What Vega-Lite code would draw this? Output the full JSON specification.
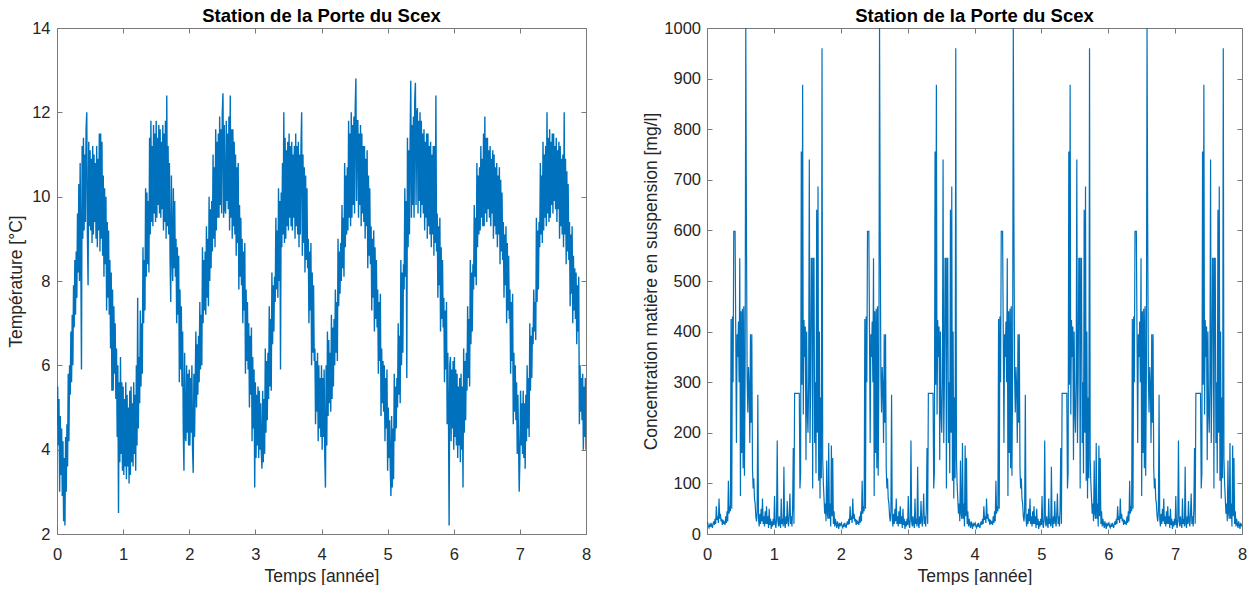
{
"$schema":"https://vega.github.io/schema/vega-lite/v6.json",
"padding":{"left":7,"top":6,"right":5,"bottom":0},
"spacing":121,
"bounds":"flush",
"config":{
"font":"Liberation Sans",
"view":{"stroke":null},
"axis":{"domainColor":"#7a7a7a","tickColor":"#7a7a7a","labelColor":"#262626","titleColor":"#262626","labelFont":"Liberation Sans","titleFont":"Liberation Sans","labelFontSize":16.5,"titleFontSize":17.5,"titleFontWeight":"normal","tickSize":-5,"grid":false,"domainWidth":1,"tickWidth":1,"labelFlush":false,"labelOverlap":false},
"title":{"font":"Liberation Sans","fontSize":18.5,"fontWeight":"bold","color":"#000000","frame":"group","anchor":"middle","offset":-5}
},
"datasets":{
"temp":[
{"t":0,"v":4.6},{"t":0.01,"v":5.5},{"t":0.02,"v":4.1},{"t":0.03,"v":5.2},{"t":0.04,"v":3.0},
{"t":0.05,"v":4.8},{"t":0.06,"v":3.4},{"t":0.07,"v":4.5},{"t":0.08,"v":2.9},{"t":0.09,"v":4.2},
{"t":0.10,"v":2.3},{"t":0.11,"v":3.8},{"t":0.12,"v":2.2},{"t":0.13,"v":4.3},{"t":0.14,"v":3.0},
{"t":0.15,"v":4.6},{"t":0.16,"v":3.6},{"t":0.17,"v":5.8},{"t":0.18,"v":4.2},{"t":0.19,"v":6.0},
{"t":0.20,"v":5.3},{"t":0.21,"v":6.8},{"t":0.22,"v":5.6},{"t":0.23,"v":7.2},{"t":0.24,"v":6.0},
{"t":0.25,"v":7.9},{"t":0.26,"v":6.9},{"t":0.27,"v":8.5},{"t":0.28,"v":7.2},{"t":0.29,"v":8.7},
{"t":0.30,"v":7.6},{"t":0.31,"v":9.6},{"t":0.32,"v":8.2},{"t":0.33,"v":10.3},{"t":0.34,"v":8.0},
{"t":0.35,"v":10.8},{"t":0.36,"v":8.7},{"t":0.37,"v":5.9},{"t":0.38,"v":11.2},{"t":0.39,"v":9.0},
{"t":0.40,"v":11.4},{"t":0.41,"v":9.2},{"t":0.42,"v":11.0},{"t":0.43,"v":9.4},{"t":0.44,"v":11.6},
{"t":0.45,"v":12.0},{"t":0.46,"v":9.1},{"t":0.47,"v":7.9},{"t":0.48,"v":11.3},{"t":0.49,"v":9.3},
{"t":0.50,"v":11.1},{"t":0.51,"v":9.2},{"t":0.52,"v":10.9},{"t":0.53,"v":8.9},{"t":0.54,"v":11.2},
{"t":0.55,"v":9.1},{"t":0.56,"v":11.0},{"t":0.57,"v":9.4},{"t":0.58,"v":10.8},{"t":0.59,"v":9.0},
{"t":0.60,"v":11.2},{"t":0.61,"v":8.8},{"t":0.62,"v":10.9},{"t":0.63,"v":9.2},{"t":0.64,"v":11.5},
{"t":0.65,"v":8.7},{"t":0.66,"v":11.5},{"t":0.67,"v":9.0},{"t":0.68,"v":11.3},{"t":0.69,"v":8.6},
{"t":0.70,"v":10.5},{"t":0.71,"v":8.1},{"t":0.72,"v":10.2},{"t":0.73,"v":8.4},{"t":0.74,"v":10.0},
{"t":0.75,"v":7.3},{"t":0.76,"v":9.4},{"t":0.77,"v":7.6},{"t":0.78,"v":9.2},{"t":0.79,"v":7.2},
{"t":0.80,"v":8.5},{"t":0.81,"v":6.4},{"t":0.82,"v":8.2},{"t":0.83,"v":5.4},{"t":0.84,"v":7.8},
{"t":0.85,"v":5.4},{"t":0.86,"v":7.4},{"t":0.87,"v":5.8},{"t":0.88,"v":7.0},{"t":0.89,"v":5.2},
{"t":0.90,"v":6.4},{"t":0.91,"v":4.3},{"t":0.92,"v":6.0},{"t":0.93,"v":2.5},{"t":0.94,"v":5.6},
{"t":0.95,"v":3.7},{"t":0.96,"v":6.2},{"t":0.97,"v":3.9},{"t":0.98,"v":5.6},{"t":0.99,"v":3.5},
{"t":1.00,"v":5.5},{"t":1.01,"v":3.4},{"t":1.02,"v":5.2},{"t":1.03,"v":3.6},{"t":1.04,"v":5.6},
{"t":1.05,"v":3.3},{"t":1.06,"v":5.3},{"t":1.07,"v":3.6},{"t":1.08,"v":5.0},{"t":1.09,"v":3.2},
{"t":1.10,"v":5.4},{"t":1.11,"v":3.4},{"t":1.12,"v":5.5},{"t":1.13,"v":3.7},{"t":1.14,"v":5.1},
{"t":1.15,"v":3.6},{"t":1.16,"v":5.6},{"t":1.17,"v":3.9},{"t":1.18,"v":5.3},{"t":1.19,"v":3.5},
{"t":1.20,"v":6.0},{"t":1.21,"v":4.1},{"t":1.22,"v":7.6},{"t":1.23,"v":4.5},{"t":1.24,"v":6.2},
{"t":1.25,"v":5.1},{"t":1.26,"v":7.3},{"t":1.27,"v":5.5},{"t":1.28,"v":7.0},{"t":1.29,"v":5.8},
{"t":1.30,"v":8.8},{"t":1.31,"v":7.0},{"t":1.32,"v":8.5},{"t":1.33,"v":7.3},{"t":1.34,"v":10.2},
{"t":1.35,"v":8.1},{"t":1.36,"v":10.1},{"t":1.37,"v":8.4},{"t":1.38,"v":9.9},{"t":1.39,"v":8.2},
{"t":1.40,"v":11.4},{"t":1.41,"v":9.1},{"t":1.42,"v":11.8},{"t":1.43,"v":9.4},{"t":1.44,"v":11.2},
{"t":1.45,"v":9.3},{"t":1.46,"v":11.7},{"t":1.47,"v":9.6},{"t":1.48,"v":11.5},{"t":1.49,"v":9.4},
{"t":1.50,"v":11.8},{"t":1.51,"v":9.5},{"t":1.52,"v":11.4},{"t":1.53,"v":9.8},{"t":1.54,"v":11.7},
{"t":1.55,"v":9.6},{"t":1.56,"v":11.6},{"t":1.57,"v":9.5},{"t":1.58,"v":11.3},{"t":1.59,"v":9.7},
{"t":1.60,"v":11.7},{"t":1.61,"v":9.2},{"t":1.62,"v":11.5},{"t":1.63,"v":9.4},{"t":1.64,"v":11.8},
{"t":1.65,"v":9.0},{"t":1.66,"v":12.4},{"t":1.67,"v":9.3},{"t":1.68,"v":11.2},{"t":1.69,"v":9.1},
{"t":1.70,"v":10.8},{"t":1.71,"v":8.5},{"t":1.72,"v":7.5},{"t":1.73,"v":10.5},{"t":1.74,"v":8.7},
{"t":1.75,"v":8.0},{"t":1.76,"v":10.2},{"t":1.77,"v":8.3},{"t":1.78,"v":9.9},{"t":1.79,"v":8.1},
{"t":1.80,"v":9.0},{"t":1.81,"v":7.0},{"t":1.82,"v":8.8},{"t":1.83,"v":7.2},{"t":1.84,"v":8.6},
{"t":1.85,"v":5.6},{"t":1.86,"v":7.8},{"t":1.87,"v":5.9},{"t":1.88,"v":7.4},{"t":1.89,"v":5.5},
{"t":1.90,"v":6.8},{"t":1.91,"v":4.4},{"t":1.92,"v":3.5},{"t":1.93,"v":6.3},{"t":1.94,"v":4.3},
{"t":1.95,"v":4.2},{"t":1.96,"v":6.0},{"t":1.97,"v":4.4},{"t":1.98,"v":5.8},{"t":1.99,"v":4.1},
{"t":2.00,"v":5.9},{"t":2.01,"v":4.1},{"t":2.02,"v":5.7},{"t":2.03,"v":4.4},{"t":2.04,"v":6.0},
{"t":2.05,"v":4.0},{"t":2.06,"v":3.45},{"t":2.07,"v":5.8},{"t":2.08,"v":4.3},{"t":2.09,"v":5.5},
{"t":2.10,"v":6.8},{"t":2.11,"v":5.0},{"t":2.12,"v":6.5},{"t":2.13,"v":5.3},{"t":2.14,"v":6.7},
{"t":2.15,"v":5.6},{"t":2.16,"v":7.5},{"t":2.17,"v":5.9},{"t":2.18,"v":7.2},{"t":2.19,"v":6.0},
{"t":2.20,"v":8.8},{"t":2.21,"v":7.0},{"t":2.22,"v":8.5},{"t":2.23,"v":7.3},{"t":2.24,"v":8.7},
{"t":2.25,"v":7.2},{"t":2.26,"v":9.3},{"t":2.27,"v":7.6},{"t":2.28,"v":9.0},{"t":2.29,"v":7.4},
{"t":2.30,"v":10.0},{"t":2.31,"v":8.0},{"t":2.32,"v":9.7},{"t":2.33,"v":8.3},{"t":2.34,"v":9.9},
{"t":2.35,"v":8.7},{"t":2.36,"v":11.0},{"t":2.37,"v":9.0},{"t":2.38,"v":10.7},{"t":2.39,"v":8.8},
{"t":2.40,"v":11.6},{"t":2.41,"v":9.2},{"t":2.42,"v":11.3},{"t":2.43,"v":9.5},{"t":2.44,"v":11.5},
{"t":2.45,"v":9.5},{"t":2.46,"v":11.9},{"t":2.47,"v":9.8},{"t":2.48,"v":11.6},{"t":2.49,"v":9.6},
{"t":2.50,"v":12.0},{"t":2.51,"v":12.45},{"t":2.52,"v":9.5},{"t":2.53,"v":11.7},{"t":2.54,"v":9.7},
{"t":2.55,"v":9.6},{"t":2.56,"v":11.8},{"t":2.57,"v":9.9},{"t":2.58,"v":11.5},{"t":2.59,"v":9.7},
{"t":2.60,"v":11.9},{"t":2.61,"v":9.2},{"t":2.62,"v":12.4},{"t":2.63,"v":9.5},{"t":2.64,"v":11.6},
{"t":2.65,"v":9.0},{"t":2.66,"v":11.6},{"t":2.67,"v":9.3},{"t":2.68,"v":11.3},{"t":2.69,"v":9.1},
{"t":2.70,"v":11.0},{"t":2.71,"v":8.6},{"t":2.72,"v":10.7},{"t":2.73,"v":8.9},{"t":2.74,"v":10.8},
{"t":2.75,"v":7.8},{"t":2.76,"v":9.8},{"t":2.77,"v":8.1},{"t":2.78,"v":9.5},{"t":2.79,"v":7.9},
{"t":2.80,"v":9.0},{"t":2.81,"v":7.0},{"t":2.82,"v":8.7},{"t":2.83,"v":7.3},{"t":2.84,"v":8.9},
{"t":2.85,"v":5.8},{"t":2.86,"v":7.8},{"t":2.87,"v":6.1},{"t":2.88,"v":7.5},{"t":2.89,"v":5.9},
{"t":2.90,"v":7.0},{"t":2.91,"v":5.0},{"t":2.92,"v":6.7},{"t":2.93,"v":5.3},{"t":2.94,"v":6.9},
{"t":2.95,"v":4.2},{"t":2.96,"v":6.2},{"t":2.97,"v":4.5},{"t":2.98,"v":5.9},{"t":2.99,"v":3.1},
{"t":3.00,"v":5.6},{"t":3.01,"v":3.8},{"t":3.02,"v":5.3},{"t":3.03,"v":4.1},{"t":3.04,"v":5.5},
{"t":3.05,"v":3.8},{"t":3.06,"v":5.4},{"t":3.07,"v":4.0},{"t":3.08,"v":5.1},{"t":3.09,"v":3.9},
{"t":3.10,"v":3.55},{"t":3.11,"v":5.4},{"t":3.12,"v":3.7},{"t":3.13,"v":5.2},{"t":3.14,"v":3.9},
{"t":3.15,"v":6.4},{"t":3.16,"v":4.4},{"t":3.17,"v":6.1},{"t":3.18,"v":4.7},{"t":3.19,"v":6.3},
{"t":3.20,"v":5.2},{"t":3.21,"v":7.4},{"t":3.22,"v":5.5},{"t":3.23,"v":7.1},{"t":3.24,"v":5.4},
{"t":3.25,"v":8.2},{"t":3.26,"v":6.5},{"t":3.27,"v":7.9},{"t":3.28,"v":6.8},{"t":3.29,"v":8.1},
{"t":3.30,"v":7.5},{"t":3.31,"v":9.5},{"t":3.32,"v":7.8},{"t":3.33,"v":9.2},{"t":3.34,"v":7.6},
{"t":3.35,"v":10.2},{"t":3.36,"v":8.0},{"t":3.37,"v":9.9},{"t":3.38,"v":5.9},{"t":3.39,"v":10.1},
{"t":3.40,"v":8.8},{"t":3.41,"v":10.8},{"t":3.42,"v":9.1},{"t":3.43,"v":12.0},{"t":3.44,"v":8.9},
{"t":3.45,"v":11.4},{"t":3.46,"v":9.0},{"t":3.47,"v":11.1},{"t":3.48,"v":9.3},{"t":3.49,"v":11.3},
{"t":3.50,"v":9.2},{"t":3.51,"v":11.5},{"t":3.52,"v":9.5},{"t":3.53,"v":11.2},{"t":3.54,"v":9.3},
{"t":3.55,"v":11.3},{"t":3.56,"v":9.2},{"t":3.57,"v":11.0},{"t":3.58,"v":9.5},{"t":3.59,"v":11.2},
{"t":3.60,"v":9.0},{"t":3.61,"v":11.5},{"t":3.62,"v":9.3},{"t":3.63,"v":11.2},{"t":3.64,"v":9.1},
{"t":3.65,"v":11.3},{"t":3.66,"v":8.8},{"t":3.67,"v":11.0},{"t":3.68,"v":9.1},{"t":3.69,"v":11.2},
{"t":3.70,"v":12.0},{"t":3.71,"v":8.6},{"t":3.72,"v":11.0},{"t":3.73,"v":8.9},{"t":3.74,"v":10.7},
{"t":3.75,"v":8.2},{"t":3.76,"v":10.5},{"t":3.77,"v":8.5},{"t":3.78,"v":10.2},{"t":3.79,"v":8.3},
{"t":3.80,"v":9.0},{"t":3.81,"v":7.0},{"t":3.82,"v":8.7},{"t":3.83,"v":7.3},{"t":3.84,"v":8.9},
{"t":3.85,"v":6.0},{"t":3.86,"v":8.2},{"t":3.87,"v":6.3},{"t":3.88,"v":7.9},{"t":3.89,"v":6.1},
{"t":3.90,"v":6.4},{"t":3.91,"v":4.6},{"t":3.92,"v":6.1},{"t":3.93,"v":4.9},{"t":3.94,"v":6.3},
{"t":3.95,"v":4.2},{"t":3.96,"v":6.0},{"t":3.97,"v":4.5},{"t":3.98,"v":5.7},{"t":3.99,"v":4.3},
{"t":4.00,"v":6.0},{"t":4.01,"v":4.0},{"t":4.02,"v":5.7},{"t":4.03,"v":4.3},{"t":4.04,"v":5.9},
{"t":4.05,"v":3.8},{"t":4.06,"v":3.1},{"t":4.07,"v":6.0},{"t":4.08,"v":4.1},{"t":4.09,"v":6.8},
{"t":4.10,"v":4.8},{"t":4.11,"v":6.6},{"t":4.12,"v":5.1},{"t":4.13,"v":6.3},{"t":4.14,"v":4.9},
{"t":4.15,"v":7.2},{"t":4.16,"v":5.2},{"t":4.17,"v":6.9},{"t":4.18,"v":5.5},{"t":4.19,"v":7.1},
{"t":4.20,"v":6.0},{"t":4.21,"v":7.8},{"t":4.22,"v":6.3},{"t":4.23,"v":7.5},{"t":4.24,"v":6.1},
{"t":4.25,"v":9.0},{"t":4.26,"v":7.4},{"t":4.27,"v":8.7},{"t":4.28,"v":7.7},{"t":4.29,"v":8.9},
{"t":4.30,"v":8.0},{"t":4.31,"v":9.8},{"t":4.32,"v":8.3},{"t":4.33,"v":9.5},{"t":4.34,"v":8.1},
{"t":4.35,"v":10.8},{"t":4.36,"v":8.8},{"t":4.37,"v":10.5},{"t":4.38,"v":9.1},{"t":4.39,"v":10.7},
{"t":4.40,"v":9.2},{"t":4.41,"v":11.8},{"t":4.42,"v":9.5},{"t":4.43,"v":11.5},{"t":4.44,"v":9.3},
{"t":4.45,"v":12.0},{"t":4.46,"v":9.5},{"t":4.47,"v":11.7},{"t":4.48,"v":9.8},{"t":4.49,"v":11.9},
{"t":4.50,"v":9.6},{"t":4.51,"v":12.1},{"t":4.52,"v":12.8},{"t":4.53,"v":9.9},{"t":4.54,"v":11.8},
{"t":4.55,"v":11.8},{"t":4.56,"v":9.5},{"t":4.57,"v":11.5},{"t":4.58,"v":9.8},{"t":4.59,"v":11.7},
{"t":4.60,"v":9.3},{"t":4.61,"v":11.5},{"t":4.62,"v":9.6},{"t":4.63,"v":11.2},{"t":4.64,"v":9.4},
{"t":4.65,"v":11.2},{"t":4.66,"v":9.0},{"t":4.67,"v":10.9},{"t":4.68,"v":9.3},{"t":4.69,"v":11.1},
{"t":4.70,"v":8.3},{"t":4.71,"v":10.5},{"t":4.72,"v":8.6},{"t":4.73,"v":10.2},{"t":4.74,"v":8.4},
{"t":4.75,"v":9.3},{"t":4.76,"v":7.3},{"t":4.77,"v":9.0},{"t":4.78,"v":7.6},{"t":4.79,"v":9.2},
{"t":4.80,"v":6.8},{"t":4.81,"v":8.8},{"t":4.82,"v":7.1},{"t":4.83,"v":8.5},{"t":4.84,"v":6.9},
{"t":4.85,"v":7.8},{"t":4.86,"v":5.8},{"t":4.87,"v":7.5},{"t":4.88,"v":6.1},{"t":4.89,"v":7.7},
{"t":4.90,"v":4.8},{"t":4.91,"v":6.4},{"t":4.92,"v":5.1},{"t":4.93,"v":6.1},{"t":4.94,"v":4.9},
{"t":4.95,"v":6.0},{"t":4.96,"v":4.2},{"t":4.97,"v":5.7},{"t":4.98,"v":4.5},{"t":4.99,"v":5.9},
{"t":5.00,"v":3.5},{"t":5.01,"v":5.0},{"t":5.02,"v":3.8},{"t":5.03,"v":4.7},{"t":5.04,"v":3.6},
{"t":5.05,"v":2.9},{"t":5.06,"v":4.8},{"t":5.07,"v":3.1},{"t":5.08,"v":4.5},{"t":5.09,"v":3.3},
{"t":5.10,"v":5.8},{"t":5.11,"v":4.2},{"t":5.12,"v":5.5},{"t":5.13,"v":4.5},{"t":5.14,"v":5.7},
{"t":5.15,"v":5.0},{"t":5.16,"v":7.0},{"t":5.17,"v":5.3},{"t":5.18,"v":6.7},{"t":5.19,"v":5.1},
{"t":5.20,"v":8.5},{"t":5.21,"v":6.0},{"t":5.22,"v":8.2},{"t":5.23,"v":6.3},{"t":5.24,"v":8.4},
{"t":5.25,"v":7.8},{"t":5.26,"v":10.2},{"t":5.27,"v":8.1},{"t":5.28,"v":9.9},{"t":5.29,"v":5.7},
{"t":5.30,"v":11.4},{"t":5.31,"v":8.8},{"t":5.32,"v":11.1},{"t":5.33,"v":9.1},{"t":5.34,"v":11.3},
{"t":5.35,"v":12.75},{"t":5.36,"v":9.5},{"t":5.37,"v":11.7},{"t":5.38,"v":9.8},{"t":5.39,"v":11.9},
{"t":5.40,"v":9.5},{"t":5.41,"v":12.3},{"t":5.42,"v":12.7},{"t":5.43,"v":9.8},{"t":5.44,"v":12.0},
{"t":5.45,"v":12.1},{"t":5.46,"v":9.6},{"t":5.47,"v":11.8},{"t":5.48,"v":9.9},{"t":5.49,"v":12.0},
{"t":5.50,"v":9.5},{"t":5.51,"v":11.8},{"t":5.52,"v":9.8},{"t":5.53,"v":11.5},{"t":5.54,"v":9.6},
{"t":5.55,"v":11.6},{"t":5.56,"v":9.2},{"t":5.57,"v":11.3},{"t":5.58,"v":9.5},{"t":5.59,"v":11.5},
{"t":5.60,"v":9.0},{"t":5.61,"v":11.5},{"t":5.62,"v":9.3},{"t":5.63,"v":11.2},{"t":5.64,"v":9.1},
{"t":5.65,"v":11.3},{"t":5.66,"v":8.8},{"t":5.67,"v":11.0},{"t":5.68,"v":9.1},{"t":5.69,"v":11.2},
{"t":5.70,"v":8.6},{"t":5.71,"v":11.2},{"t":5.72,"v":8.9},{"t":5.73,"v":12.4},{"t":5.74,"v":8.7},
{"t":5.75,"v":9.6},{"t":5.76,"v":7.6},{"t":5.77,"v":9.3},{"t":5.78,"v":7.9},{"t":5.79,"v":9.5},
{"t":5.80,"v":6.8},{"t":5.81,"v":8.8},{"t":5.82,"v":7.1},{"t":5.83,"v":8.5},{"t":5.84,"v":6.9},
{"t":5.85,"v":7.6},{"t":5.86,"v":5.6},{"t":5.87,"v":7.3},{"t":5.88,"v":5.9},{"t":5.89,"v":7.5},
{"t":5.90,"v":4.6},{"t":5.91,"v":6.3},{"t":5.92,"v":4.9},{"t":5.93,"v":2.2},{"t":5.94,"v":6.0},
{"t":5.95,"v":6.2},{"t":5.96,"v":4.2},{"t":5.97,"v":5.9},{"t":5.98,"v":4.5},{"t":5.99,"v":6.1},
{"t":6.00,"v":4.0},{"t":6.01,"v":6.2},{"t":6.02,"v":4.3},{"t":6.03,"v":5.9},{"t":6.04,"v":4.1},
{"t":6.05,"v":5.8},{"t":6.06,"v":3.8},{"t":6.07,"v":5.5},{"t":6.08,"v":4.1},{"t":6.09,"v":5.7},
{"t":6.10,"v":3.7},{"t":6.11,"v":5.8},{"t":6.12,"v":4.0},{"t":6.13,"v":5.5},{"t":6.14,"v":3.1},
{"t":6.15,"v":6.4},{"t":6.16,"v":4.4},{"t":6.17,"v":6.1},{"t":6.18,"v":4.7},{"t":6.19,"v":6.3},
{"t":6.20,"v":5.4},{"t":6.21,"v":7.4},{"t":6.22,"v":5.7},{"t":6.23,"v":7.1},{"t":6.24,"v":5.5},
{"t":6.25,"v":8.5},{"t":6.26,"v":6.5},{"t":6.27,"v":8.2},{"t":6.28,"v":6.8},{"t":6.29,"v":8.4},
{"t":6.30,"v":7.8},{"t":6.31,"v":9.8},{"t":6.32,"v":8.1},{"t":6.33,"v":9.5},{"t":6.34,"v":7.9},
{"t":6.35,"v":10.8},{"t":6.36,"v":8.8},{"t":6.37,"v":10.5},{"t":6.38,"v":9.1},{"t":6.39,"v":10.7},
{"t":6.40,"v":9.2},{"t":6.41,"v":11.2},{"t":6.42,"v":9.5},{"t":6.43,"v":10.9},{"t":6.44,"v":9.3},
{"t":6.45,"v":11.5},{"t":6.46,"v":9.3},{"t":6.47,"v":11.9},{"t":6.48,"v":9.6},{"t":6.49,"v":11.4},
{"t":6.50,"v":9.4},{"t":6.51,"v":11.4},{"t":6.52,"v":9.7},{"t":6.53,"v":11.1},{"t":6.54,"v":9.5},
{"t":6.55,"v":11.2},{"t":6.56,"v":9.3},{"t":6.57,"v":10.9},{"t":6.58,"v":9.6},{"t":6.59,"v":11.1},
{"t":6.60,"v":9.0},{"t":6.61,"v":11.0},{"t":6.62,"v":9.3},{"t":6.63,"v":10.7},{"t":6.64,"v":9.1},
{"t":6.65,"v":10.8},{"t":6.66,"v":8.8},{"t":6.67,"v":10.5},{"t":6.68,"v":9.1},{"t":6.69,"v":10.7},
{"t":6.70,"v":8.4},{"t":6.71,"v":10.4},{"t":6.72,"v":8.7},{"t":6.73,"v":10.1},{"t":6.74,"v":8.5},
{"t":6.75,"v":9.4},{"t":6.76,"v":7.6},{"t":6.77,"v":9.1},{"t":6.78,"v":7.9},{"t":6.79,"v":9.3},
{"t":6.80,"v":7.0},{"t":6.81,"v":8.9},{"t":6.82,"v":7.3},{"t":6.83,"v":8.6},{"t":6.84,"v":7.1},
{"t":6.85,"v":7.8},{"t":6.86,"v":5.8},{"t":6.87,"v":7.5},{"t":6.88,"v":6.1},{"t":6.89,"v":7.7},
{"t":6.90,"v":4.6},{"t":6.91,"v":6.3},{"t":6.92,"v":4.9},{"t":6.93,"v":6.0},{"t":6.94,"v":4.7},
{"t":6.95,"v":5.6},{"t":6.96,"v":3.9},{"t":6.97,"v":5.3},{"t":6.98,"v":4.2},{"t":6.99,"v":3.0},
{"t":7.00,"v":3.8},{"t":7.01,"v":5.4},{"t":7.02,"v":4.1},{"t":7.03,"v":5.1},{"t":7.04,"v":3.9},
{"t":7.05,"v":5.4},{"t":7.06,"v":3.8},{"t":7.07,"v":5.1},{"t":7.08,"v":3.55},{"t":7.09,"v":5.3},
{"t":7.10,"v":4.2},{"t":7.11,"v":6.0},{"t":7.12,"v":4.5},{"t":7.13,"v":5.7},{"t":7.14,"v":4.3},
{"t":7.15,"v":7.0},{"t":7.16,"v":5.4},{"t":7.17,"v":6.7},{"t":7.18,"v":5.7},{"t":7.19,"v":6.9},
{"t":7.20,"v":6.5},{"t":7.21,"v":7.8},{"t":7.22,"v":6.8},{"t":7.23,"v":7.5},{"t":7.24,"v":6.6},
{"t":7.25,"v":9.5},{"t":7.26,"v":7.5},{"t":7.27,"v":9.2},{"t":7.28,"v":7.8},{"t":7.29,"v":9.4},
{"t":7.30,"v":8.8},{"t":7.31,"v":10.8},{"t":7.32,"v":9.1},{"t":7.33,"v":10.5},{"t":7.34,"v":8.9},
{"t":7.35,"v":11.3},{"t":7.36,"v":9.2},{"t":7.37,"v":11.0},{"t":7.38,"v":9.5},{"t":7.39,"v":11.2},
{"t":7.40,"v":9.3},{"t":7.41,"v":12.0},{"t":7.42,"v":9.6},{"t":7.43,"v":11.4},{"t":7.44,"v":9.4},
{"t":7.45,"v":11.6},{"t":7.46,"v":9.5},{"t":7.47,"v":11.3},{"t":7.48,"v":9.8},{"t":7.49,"v":11.5},
{"t":7.50,"v":9.6},{"t":7.51,"v":11.5},{"t":7.52,"v":9.9},{"t":7.53,"v":11.2},{"t":7.54,"v":9.7},
{"t":7.55,"v":11.4},{"t":7.56,"v":9.4},{"t":7.57,"v":11.1},{"t":7.58,"v":9.7},{"t":7.59,"v":11.3},
{"t":7.60,"v":9.0},{"t":7.61,"v":11.2},{"t":7.62,"v":9.3},{"t":7.63,"v":10.9},{"t":7.64,"v":9.1},
{"t":7.65,"v":11.0},{"t":7.66,"v":8.8},{"t":7.67,"v":12.0},{"t":7.68,"v":9.1},{"t":7.69,"v":10.9},
{"t":7.70,"v":8.4},{"t":7.71,"v":10.6},{"t":7.72,"v":8.7},{"t":7.73,"v":10.3},{"t":7.74,"v":8.5},
{"t":7.75,"v":9.4},{"t":7.76,"v":7.4},{"t":7.77,"v":9.1},{"t":7.78,"v":7.7},{"t":7.79,"v":9.3},
{"t":7.80,"v":7.0},{"t":7.81,"v":8.6},{"t":7.82,"v":7.3},{"t":7.83,"v":8.3},{"t":7.84,"v":7.1},
{"t":7.85,"v":8.2},{"t":7.86,"v":6.5},{"t":7.87,"v":7.9},{"t":7.88,"v":6.8},{"t":7.89,"v":8.1},
{"t":7.90,"v":4.6},{"t":7.91,"v":6.0},{"t":7.92,"v":4.9},{"t":7.93,"v":5.7},{"t":7.94,"v":4.7},
{"t":7.95,"v":5.8},{"t":7.96,"v":4.0},{"t":7.97,"v":5.5},{"t":7.98,"v":4.3},{"t":7.99,"v":5.7},
{"t":8.00,"v":4.0}
],
"conc":[
{"t":0,"v":20},{"t":0.01,"v":22},{"t":0.02,"v":15},{"t":0.03,"v":12},{"t":0.04,"v":18},{"t":0.05,"v":14},{"t":0.06,"v":22},{"t":0.07,"v":16},{"t":0.08,"v":12},{"t":0.09,"v":20},
{"t":0.10,"v":25},{"t":0.11,"v":18},{"t":0.12,"v":30},{"t":0.13,"v":20},{"t":0.14,"v":55},{"t":0.15,"v":28},{"t":0.16,"v":35},{"t":0.17,"v":22},{"t":0.18,"v":70},{"t":0.19,"v":30},
{"t":0.20,"v":40},{"t":0.21,"v":25},{"t":0.22,"v":30},{"t":0.23,"v":18},{"t":0.24,"v":28},{"t":0.25,"v":20},{"t":0.26,"v":25},{"t":0.27,"v":18},{"t":0.28,"v":35},{"t":0.29,"v":22},
{"t":0.30,"v":45},{"t":0.31,"v":25},{"t":0.32,"v":105},{"t":0.33,"v":40},{"t":0.34,"v":55},{"t":0.35,"v":45},{"t":0.36,"v":425},{"t":0.37,"v":50},{"t":0.38,"v":430},{"t":0.39,"v":300},
{"t":0.40,"v":598},{"t":0.41,"v":598},{"t":0.42,"v":598},{"t":0.43,"v":395},{"t":0.44,"v":180},{"t":0.45,"v":395},{"t":0.46,"v":350},{"t":0.47,"v":420},{"t":0.48,"v":300},{"t":0.49,"v":545},
{"t":0.50,"v":75},{"t":0.51,"v":440},{"t":0.52,"v":160},{"t":0.53,"v":445},{"t":0.54,"v":130},{"t":0.55,"v":450},{"t":0.56,"v":115},{"t":0.57,"v":320},{"t":0.58,"v":1000},{"t":0.59,"v":600},
{"t":0.60,"v":310},{"t":0.61,"v":240},{"t":0.62,"v":330},{"t":0.63,"v":290},{"t":0.64,"v":180},{"t":0.65,"v":395},{"t":0.66,"v":220},{"t":0.67,"v":395},{"t":0.68,"v":130},{"t":0.69,"v":90},
{"t":0.70,"v":110},{"t":0.71,"v":70},{"t":0.72,"v":60},{"t":0.73,"v":35},{"t":0.74,"v":25},{"t":0.75,"v":45},{"t":0.76,"v":275},{"t":0.77,"v":30},{"t":0.78,"v":15},{"t":0.79,"v":40},
{"t":0.80,"v":20},{"t":0.81,"v":50},{"t":0.82,"v":25},{"t":0.83,"v":70},{"t":0.84,"v":20},{"t":0.85,"v":35},{"t":0.86,"v":15},{"t":0.87,"v":45},{"t":0.88,"v":20},{"t":0.89,"v":55},
{"t":0.90,"v":20},{"t":0.91,"v":35},{"t":0.92,"v":12},{"t":0.93,"v":50},{"t":0.94,"v":18},{"t":0.95,"v":30},{"t":0.96,"v":10},{"t":0.97,"v":25},{"t":0.98,"v":15},{"t":0.99,"v":30},
{"t":1.00,"v":18},{"t":1.01,"v":75},{"t":1.02,"v":20},{"t":1.03,"v":12},{"t":1.04,"v":30},{"t":1.05,"v":185},{"t":1.06,"v":25},{"t":1.07,"v":15},{"t":1.08,"v":35},{"t":1.09,"v":20},
{"t":1.10,"v":12},{"t":1.11,"v":70},{"t":1.12,"v":20},{"t":1.13,"v":30},{"t":1.14,"v":15},{"t":1.15,"v":133},{"t":1.16,"v":20},{"t":1.17,"v":12},{"t":1.18,"v":35},{"t":1.19,"v":20},
{"t":1.20,"v":65},{"t":1.21,"v":25},{"t":1.22,"v":15},{"t":1.23,"v":40},{"t":1.24,"v":80},{"t":1.25,"v":20},{"t":1.26,"v":35},{"t":1.27,"v":15},{"t":1.28,"v":50},{"t":1.29,"v":170},
{"t":1.30,"v":20},{"t":1.31,"v":278},{"t":1.32,"v":278},{"t":1.33,"v":278},{"t":1.34,"v":278},{"t":1.35,"v":278},{"t":1.36,"v":278},{"t":1.37,"v":278},{"t":1.38,"v":278},{"t":1.39,"v":90},
{"t":1.40,"v":120},{"t":1.41,"v":756},{"t":1.42,"v":295},{"t":1.43,"v":888},{"t":1.44,"v":236},{"t":1.45,"v":423},{"t":1.46,"v":350},{"t":1.47,"v":410},{"t":1.48,"v":146},{"t":1.49,"v":400},
{"t":1.50,"v":240},{"t":1.51,"v":200},{"t":1.52,"v":300},{"t":1.53,"v":740},{"t":1.54,"v":180},{"t":1.55,"v":300},{"t":1.56,"v":545},{"t":1.57,"v":545},{"t":1.58,"v":90},{"t":1.59,"v":545},
{"t":1.60,"v":545},{"t":1.61,"v":180},{"t":1.62,"v":300},{"t":1.63,"v":120},{"t":1.64,"v":641},{"t":1.65,"v":200},{"t":1.66,"v":687},{"t":1.67,"v":105},{"t":1.68,"v":400},{"t":1.69,"v":70},
{"t":1.70,"v":270},{"t":1.71,"v":110},{"t":1.72,"v":960},{"t":1.73,"v":150},{"t":1.74,"v":100},{"t":1.75,"v":70},{"t":1.76,"v":40},{"t":1.77,"v":60},{"t":1.78,"v":25},{"t":1.79,"v":145},
{"t":1.80,"v":40},{"t":1.81,"v":30},{"t":1.82,"v":180},{"t":1.83,"v":30},{"t":1.84,"v":60},{"t":1.85,"v":15},{"t":1.86,"v":175},{"t":1.87,"v":35},{"t":1.88,"v":150},{"t":1.89,"v":20},
{"t":1.90,"v":45},{"t":1.91,"v":15},{"t":1.92,"v":30},{"t":1.93,"v":20},{"t":1.94,"v":12},{"t":1.95,"v":25},{"t":1.96,"v":18},{"t":1.97,"v":10},{"t":1.98,"v":22},{"t":1.99,"v":15},
{"t":2.00,"v":20},{"t":2.01,"v":22},{"t":2.02,"v":15},{"t":2.03,"v":12},{"t":2.04,"v":18},{"t":2.05,"v":14},{"t":2.06,"v":22},{"t":2.07,"v":16},{"t":2.08,"v":12},{"t":2.09,"v":20},
{"t":2.10,"v":25},{"t":2.11,"v":18},{"t":2.12,"v":30},{"t":2.13,"v":20},{"t":2.14,"v":55},{"t":2.15,"v":28},{"t":2.16,"v":35},{"t":2.17,"v":22},{"t":2.18,"v":70},{"t":2.19,"v":30},
{"t":2.20,"v":40},{"t":2.21,"v":25},{"t":2.22,"v":30},{"t":2.23,"v":18},{"t":2.24,"v":28},{"t":2.25,"v":20},{"t":2.26,"v":25},{"t":2.27,"v":18},{"t":2.28,"v":35},{"t":2.29,"v":22},
{"t":2.30,"v":45},{"t":2.31,"v":25},{"t":2.32,"v":105},{"t":2.33,"v":40},{"t":2.34,"v":55},{"t":2.35,"v":45},{"t":2.36,"v":425},{"t":2.37,"v":50},{"t":2.38,"v":430},{"t":2.39,"v":300},
{"t":2.40,"v":598},{"t":2.41,"v":598},{"t":2.42,"v":598},{"t":2.43,"v":395},{"t":2.44,"v":180},{"t":2.45,"v":395},{"t":2.46,"v":350},{"t":2.47,"v":420},{"t":2.48,"v":300},{"t":2.49,"v":545},
{"t":2.50,"v":75},{"t":2.51,"v":440},{"t":2.52,"v":160},{"t":2.53,"v":445},{"t":2.54,"v":130},{"t":2.55,"v":450},{"t":2.56,"v":115},{"t":2.57,"v":320},{"t":2.58,"v":1000},{"t":2.59,"v":600},
{"t":2.60,"v":310},{"t":2.61,"v":240},{"t":2.62,"v":330},{"t":2.63,"v":290},{"t":2.64,"v":180},{"t":2.65,"v":395},{"t":2.66,"v":220},{"t":2.67,"v":395},{"t":2.68,"v":130},{"t":2.69,"v":90},
{"t":2.70,"v":110},{"t":2.71,"v":70},{"t":2.72,"v":60},{"t":2.73,"v":35},{"t":2.74,"v":25},{"t":2.75,"v":45},{"t":2.76,"v":275},{"t":2.77,"v":30},{"t":2.78,"v":15},{"t":2.79,"v":40},
{"t":2.80,"v":20},{"t":2.81,"v":50},{"t":2.82,"v":25},{"t":2.83,"v":70},{"t":2.84,"v":20},{"t":2.85,"v":35},{"t":2.86,"v":15},{"t":2.87,"v":45},{"t":2.88,"v":20},{"t":2.89,"v":55},
{"t":2.90,"v":20},{"t":2.91,"v":35},{"t":2.92,"v":12},{"t":2.93,"v":50},{"t":2.94,"v":18},{"t":2.95,"v":30},{"t":2.96,"v":10},{"t":2.97,"v":25},{"t":2.98,"v":15},{"t":2.99,"v":30},
{"t":3.00,"v":18},{"t":3.01,"v":75},{"t":3.02,"v":20},{"t":3.03,"v":12},{"t":3.04,"v":30},{"t":3.05,"v":185},{"t":3.06,"v":25},{"t":3.07,"v":15},{"t":3.08,"v":35},{"t":3.09,"v":20},
{"t":3.10,"v":12},{"t":3.11,"v":70},{"t":3.12,"v":20},{"t":3.13,"v":30},{"t":3.14,"v":15},{"t":3.15,"v":133},{"t":3.16,"v":20},{"t":3.17,"v":12},{"t":3.18,"v":35},{"t":3.19,"v":20},
{"t":3.20,"v":65},{"t":3.21,"v":25},{"t":3.22,"v":15},{"t":3.23,"v":40},{"t":3.24,"v":80},{"t":3.25,"v":20},{"t":3.26,"v":35},{"t":3.27,"v":15},{"t":3.28,"v":50},{"t":3.29,"v":170},
{"t":3.30,"v":20},{"t":3.31,"v":278},{"t":3.32,"v":278},{"t":3.33,"v":278},{"t":3.34,"v":278},{"t":3.35,"v":278},{"t":3.36,"v":278},{"t":3.37,"v":278},{"t":3.38,"v":278},{"t":3.39,"v":90},
{"t":3.40,"v":120},{"t":3.41,"v":756},{"t":3.42,"v":295},{"t":3.43,"v":888},{"t":3.44,"v":236},{"t":3.45,"v":423},{"t":3.46,"v":350},{"t":3.47,"v":410},{"t":3.48,"v":146},{"t":3.49,"v":400},
{"t":3.50,"v":240},{"t":3.51,"v":200},{"t":3.52,"v":300},{"t":3.53,"v":740},{"t":3.54,"v":180},{"t":3.55,"v":300},{"t":3.56,"v":545},{"t":3.57,"v":545},{"t":3.58,"v":90},{"t":3.59,"v":545},
{"t":3.60,"v":545},{"t":3.61,"v":180},{"t":3.62,"v":300},{"t":3.63,"v":120},{"t":3.64,"v":641},{"t":3.65,"v":200},{"t":3.66,"v":687},{"t":3.67,"v":105},{"t":3.68,"v":400},{"t":3.69,"v":70},
{"t":3.70,"v":270},{"t":3.71,"v":110},{"t":3.72,"v":960},{"t":3.73,"v":150},{"t":3.74,"v":100},{"t":3.75,"v":70},{"t":3.76,"v":40},{"t":3.77,"v":60},{"t":3.78,"v":25},{"t":3.79,"v":145},
{"t":3.80,"v":40},{"t":3.81,"v":30},{"t":3.82,"v":180},{"t":3.83,"v":30},{"t":3.84,"v":60},{"t":3.85,"v":15},{"t":3.86,"v":175},{"t":3.87,"v":35},{"t":3.88,"v":150},{"t":3.89,"v":20},
{"t":3.90,"v":45},{"t":3.91,"v":15},{"t":3.92,"v":30},{"t":3.93,"v":20},{"t":3.94,"v":12},{"t":3.95,"v":25},{"t":3.96,"v":18},{"t":3.97,"v":10},{"t":3.98,"v":22},{"t":3.99,"v":15},
{"t":4.00,"v":20},{"t":4.01,"v":22},{"t":4.02,"v":15},{"t":4.03,"v":12},{"t":4.04,"v":18},{"t":4.05,"v":14},{"t":4.06,"v":22},{"t":4.07,"v":16},{"t":4.08,"v":12},{"t":4.09,"v":20},
{"t":4.10,"v":25},{"t":4.11,"v":18},{"t":4.12,"v":30},{"t":4.13,"v":20},{"t":4.14,"v":55},{"t":4.15,"v":28},{"t":4.16,"v":35},{"t":4.17,"v":22},{"t":4.18,"v":70},{"t":4.19,"v":30},
{"t":4.20,"v":40},{"t":4.21,"v":25},{"t":4.22,"v":30},{"t":4.23,"v":18},{"t":4.24,"v":28},{"t":4.25,"v":20},{"t":4.26,"v":25},{"t":4.27,"v":18},{"t":4.28,"v":35},{"t":4.29,"v":22},
{"t":4.30,"v":45},{"t":4.31,"v":25},{"t":4.32,"v":105},{"t":4.33,"v":40},{"t":4.34,"v":55},{"t":4.35,"v":45},{"t":4.36,"v":425},{"t":4.37,"v":50},{"t":4.38,"v":430},{"t":4.39,"v":300},
{"t":4.40,"v":598},{"t":4.41,"v":598},{"t":4.42,"v":598},{"t":4.43,"v":395},{"t":4.44,"v":180},{"t":4.45,"v":395},{"t":4.46,"v":350},{"t":4.47,"v":420},{"t":4.48,"v":300},{"t":4.49,"v":545},
{"t":4.50,"v":75},{"t":4.51,"v":440},{"t":4.52,"v":160},{"t":4.53,"v":445},{"t":4.54,"v":130},{"t":4.55,"v":450},{"t":4.56,"v":115},{"t":4.57,"v":320},{"t":4.58,"v":1000},{"t":4.59,"v":600},
{"t":4.60,"v":310},{"t":4.61,"v":240},{"t":4.62,"v":330},{"t":4.63,"v":290},{"t":4.64,"v":180},{"t":4.65,"v":395},{"t":4.66,"v":220},{"t":4.67,"v":395},{"t":4.68,"v":130},{"t":4.69,"v":90},
{"t":4.70,"v":110},{"t":4.71,"v":70},{"t":4.72,"v":60},{"t":4.73,"v":35},{"t":4.74,"v":25},{"t":4.75,"v":45},{"t":4.76,"v":275},{"t":4.77,"v":30},{"t":4.78,"v":15},{"t":4.79,"v":40},
{"t":4.80,"v":20},{"t":4.81,"v":50},{"t":4.82,"v":25},{"t":4.83,"v":70},{"t":4.84,"v":20},{"t":4.85,"v":35},{"t":4.86,"v":15},{"t":4.87,"v":45},{"t":4.88,"v":20},{"t":4.89,"v":55},
{"t":4.90,"v":20},{"t":4.91,"v":35},{"t":4.92,"v":12},{"t":4.93,"v":50},{"t":4.94,"v":18},{"t":4.95,"v":30},{"t":4.96,"v":10},{"t":4.97,"v":25},{"t":4.98,"v":15},{"t":4.99,"v":30},
{"t":5.00,"v":18},{"t":5.01,"v":75},{"t":5.02,"v":20},{"t":5.03,"v":12},{"t":5.04,"v":30},{"t":5.05,"v":185},{"t":5.06,"v":25},{"t":5.07,"v":15},{"t":5.08,"v":35},{"t":5.09,"v":20},
{"t":5.10,"v":12},{"t":5.11,"v":70},{"t":5.12,"v":20},{"t":5.13,"v":30},{"t":5.14,"v":15},{"t":5.15,"v":133},{"t":5.16,"v":20},{"t":5.17,"v":12},{"t":5.18,"v":35},{"t":5.19,"v":20},
{"t":5.20,"v":65},{"t":5.21,"v":25},{"t":5.22,"v":15},{"t":5.23,"v":40},{"t":5.24,"v":80},{"t":5.25,"v":20},{"t":5.26,"v":35},{"t":5.27,"v":15},{"t":5.28,"v":50},{"t":5.29,"v":170},
{"t":5.30,"v":20},{"t":5.31,"v":278},{"t":5.32,"v":278},{"t":5.33,"v":278},{"t":5.34,"v":278},{"t":5.35,"v":278},{"t":5.36,"v":278},{"t":5.37,"v":278},{"t":5.38,"v":278},{"t":5.39,"v":90},
{"t":5.40,"v":120},{"t":5.41,"v":756},{"t":5.42,"v":295},{"t":5.43,"v":888},{"t":5.44,"v":236},{"t":5.45,"v":423},{"t":5.46,"v":350},{"t":5.47,"v":410},{"t":5.48,"v":146},{"t":5.49,"v":400},
{"t":5.50,"v":240},{"t":5.51,"v":200},{"t":5.52,"v":300},{"t":5.53,"v":740},{"t":5.54,"v":180},{"t":5.55,"v":300},{"t":5.56,"v":545},{"t":5.57,"v":545},{"t":5.58,"v":90},{"t":5.59,"v":545},
{"t":5.60,"v":545},{"t":5.61,"v":180},{"t":5.62,"v":300},{"t":5.63,"v":120},{"t":5.64,"v":641},{"t":5.65,"v":200},{"t":5.66,"v":687},{"t":5.67,"v":105},{"t":5.68,"v":400},{"t":5.69,"v":70},
{"t":5.70,"v":270},{"t":5.71,"v":110},{"t":5.72,"v":960},{"t":5.73,"v":150},{"t":5.74,"v":100},{"t":5.75,"v":70},{"t":5.76,"v":40},{"t":5.77,"v":60},{"t":5.78,"v":25},{"t":5.79,"v":145},
{"t":5.80,"v":40},{"t":5.81,"v":30},{"t":5.82,"v":180},{"t":5.83,"v":30},{"t":5.84,"v":60},{"t":5.85,"v":15},{"t":5.86,"v":175},{"t":5.87,"v":35},{"t":5.88,"v":150},{"t":5.89,"v":20},
{"t":5.90,"v":45},{"t":5.91,"v":15},{"t":5.92,"v":30},{"t":5.93,"v":20},{"t":5.94,"v":12},{"t":5.95,"v":25},{"t":5.96,"v":18},{"t":5.97,"v":10},{"t":5.98,"v":22},{"t":5.99,"v":15},
{"t":6.00,"v":20},{"t":6.01,"v":22},{"t":6.02,"v":15},{"t":6.03,"v":12},{"t":6.04,"v":18},{"t":6.05,"v":14},{"t":6.06,"v":22},{"t":6.07,"v":16},{"t":6.08,"v":12},{"t":6.09,"v":20},
{"t":6.10,"v":25},{"t":6.11,"v":18},{"t":6.12,"v":30},{"t":6.13,"v":20},{"t":6.14,"v":55},{"t":6.15,"v":28},{"t":6.16,"v":35},{"t":6.17,"v":22},{"t":6.18,"v":70},{"t":6.19,"v":30},
{"t":6.20,"v":40},{"t":6.21,"v":25},{"t":6.22,"v":30},{"t":6.23,"v":18},{"t":6.24,"v":28},{"t":6.25,"v":20},{"t":6.26,"v":25},{"t":6.27,"v":18},{"t":6.28,"v":35},{"t":6.29,"v":22},
{"t":6.30,"v":45},{"t":6.31,"v":25},{"t":6.32,"v":105},{"t":6.33,"v":40},{"t":6.34,"v":55},{"t":6.35,"v":45},{"t":6.36,"v":425},{"t":6.37,"v":50},{"t":6.38,"v":430},{"t":6.39,"v":300},
{"t":6.40,"v":598},{"t":6.41,"v":598},{"t":6.42,"v":598},{"t":6.43,"v":395},{"t":6.44,"v":180},{"t":6.45,"v":395},{"t":6.46,"v":350},{"t":6.47,"v":420},{"t":6.48,"v":300},{"t":6.49,"v":545},
{"t":6.50,"v":75},{"t":6.51,"v":440},{"t":6.52,"v":160},{"t":6.53,"v":445},{"t":6.54,"v":130},{"t":6.55,"v":450},{"t":6.56,"v":115},{"t":6.57,"v":320},{"t":6.58,"v":1000},{"t":6.59,"v":600},
{"t":6.60,"v":310},{"t":6.61,"v":240},{"t":6.62,"v":330},{"t":6.63,"v":290},{"t":6.64,"v":180},{"t":6.65,"v":395},{"t":6.66,"v":220},{"t":6.67,"v":395},{"t":6.68,"v":130},{"t":6.69,"v":90},
{"t":6.70,"v":110},{"t":6.71,"v":70},{"t":6.72,"v":60},{"t":6.73,"v":35},{"t":6.74,"v":25},{"t":6.75,"v":45},{"t":6.76,"v":275},{"t":6.77,"v":30},{"t":6.78,"v":15},{"t":6.79,"v":40},
{"t":6.80,"v":20},{"t":6.81,"v":50},{"t":6.82,"v":25},{"t":6.83,"v":70},{"t":6.84,"v":20},{"t":6.85,"v":35},{"t":6.86,"v":15},{"t":6.87,"v":45},{"t":6.88,"v":20},{"t":6.89,"v":55},
{"t":6.90,"v":20},{"t":6.91,"v":35},{"t":6.92,"v":12},{"t":6.93,"v":50},{"t":6.94,"v":18},{"t":6.95,"v":30},{"t":6.96,"v":10},{"t":6.97,"v":25},{"t":6.98,"v":15},{"t":6.99,"v":30},
{"t":7.00,"v":18},{"t":7.01,"v":75},{"t":7.02,"v":20},{"t":7.03,"v":12},{"t":7.04,"v":30},{"t":7.05,"v":185},{"t":7.06,"v":25},{"t":7.07,"v":15},{"t":7.08,"v":35},{"t":7.09,"v":20},
{"t":7.10,"v":12},{"t":7.11,"v":70},{"t":7.12,"v":20},{"t":7.13,"v":30},{"t":7.14,"v":15},{"t":7.15,"v":133},{"t":7.16,"v":20},{"t":7.17,"v":12},{"t":7.18,"v":35},{"t":7.19,"v":20},
{"t":7.20,"v":65},{"t":7.21,"v":25},{"t":7.22,"v":15},{"t":7.23,"v":40},{"t":7.24,"v":80},{"t":7.25,"v":20},{"t":7.26,"v":35},{"t":7.27,"v":15},{"t":7.28,"v":50},{"t":7.29,"v":170},
{"t":7.30,"v":20},{"t":7.31,"v":278},{"t":7.32,"v":278},{"t":7.33,"v":278},{"t":7.34,"v":278},{"t":7.35,"v":278},{"t":7.36,"v":278},{"t":7.37,"v":278},{"t":7.38,"v":278},{"t":7.39,"v":90},
{"t":7.40,"v":120},{"t":7.41,"v":756},{"t":7.42,"v":295},{"t":7.43,"v":888},{"t":7.44,"v":236},{"t":7.45,"v":423},{"t":7.46,"v":350},{"t":7.47,"v":410},{"t":7.48,"v":146},{"t":7.49,"v":400},
{"t":7.50,"v":240},{"t":7.51,"v":200},{"t":7.52,"v":300},{"t":7.53,"v":740},{"t":7.54,"v":180},{"t":7.55,"v":300},{"t":7.56,"v":545},{"t":7.57,"v":545},{"t":7.58,"v":90},{"t":7.59,"v":545},
{"t":7.60,"v":545},{"t":7.61,"v":180},{"t":7.62,"v":300},{"t":7.63,"v":120},{"t":7.64,"v":641},{"t":7.65,"v":200},{"t":7.66,"v":687},{"t":7.67,"v":105},{"t":7.68,"v":400},{"t":7.69,"v":70},
{"t":7.70,"v":270},{"t":7.71,"v":110},{"t":7.72,"v":960},{"t":7.73,"v":150},{"t":7.74,"v":100},{"t":7.75,"v":70},{"t":7.76,"v":40},{"t":7.77,"v":60},{"t":7.78,"v":25},{"t":7.79,"v":145},
{"t":7.80,"v":40},{"t":7.81,"v":30},{"t":7.82,"v":180},{"t":7.83,"v":30},{"t":7.84,"v":60},{"t":7.85,"v":15},{"t":7.86,"v":175},{"t":7.87,"v":35},{"t":7.88,"v":150},{"t":7.89,"v":20},
{"t":7.90,"v":45},{"t":7.91,"v":15},{"t":7.92,"v":30},{"t":7.93,"v":20},{"t":7.94,"v":12},{"t":7.95,"v":25},{"t":7.96,"v":18},{"t":7.97,"v":10},{"t":7.98,"v":22},{"t":7.99,"v":15},
{"t":8.00,"v":20}
]
},
"hconcat":[
{
"width":529,"height":506,
"title":"Station de la Porte du Scex",
"data":{"name":"temp"},
"layer":[
{"mark":{"type":"line","stroke":"#0072BD","strokeWidth":1.4,"clip":true},
"encoding":{
"x":{"field":"t","type":"quantitative","scale":{"domain":[0,8],"nice":false,"zero":false},"axis":{"values":[0,1,2,3,4,5,6,7,8],"title":"Temps [année]","labelPadding":17,"titlePadding":5}},
"y":{"field":"v","type":"quantitative","scale":{"domain":[2,14],"nice":false,"zero":false},"axis":{"values":[2,4,6,8,10,12,14],"format":"d","title":"Température [°C]","labelPadding":12,"titlePadding":6}}
}},
{"mark":{"type":"line","strokeOpacity":0},
"encoding":{
"x":{"field":"t","type":"quantitative","axis":{"orient":"top","values":[0,1,2,3,4,5,6,7,8],"labels":false,"title":null}},
"y":{"field":"v","type":"quantitative","axis":{"orient":"right","values":[2,4,6,8,10,12,14],"labels":false,"title":null}}
}}
],
"resolve":{"axis":{"x":"independent","y":"independent"}}
},
{
"width":535,"height":506,
"title":"Station de la Porte du Scex",
"data":{"name":"conc"},
"layer":[
{"mark":{"type":"line","stroke":"#0072BD","strokeWidth":1.2,"clip":true},
"encoding":{
"x":{"field":"t","type":"quantitative","scale":{"domain":[0,8],"nice":false,"zero":false},"axis":{"values":[0,1,2,3,4,5,6,7,8],"title":"Temps [année]","labelPadding":17,"titlePadding":5}},
"y":{"field":"v","type":"quantitative","scale":{"domain":[0,1000],"nice":false,"zero":false},"axis":{"values":[0,100,200,300,400,500,600,700,800,900,1000],"format":"d","title":"Concentration matière en suspension [mg/l]","labelPadding":11.5,"titlePadding":3}}
}},
{"mark":{"type":"line","strokeOpacity":0},
"encoding":{
"x":{"field":"t","type":"quantitative","axis":{"orient":"top","values":[0,1,2,3,4,5,6,7,8],"labels":false,"title":null}},
"y":{"field":"v","type":"quantitative","axis":{"orient":"right","values":[0,100,200,300,400,500,600,700,800,900,1000],"labels":false,"title":null}}
}}
],
"resolve":{"axis":{"x":"independent","y":"independent"}}
}
]
}
